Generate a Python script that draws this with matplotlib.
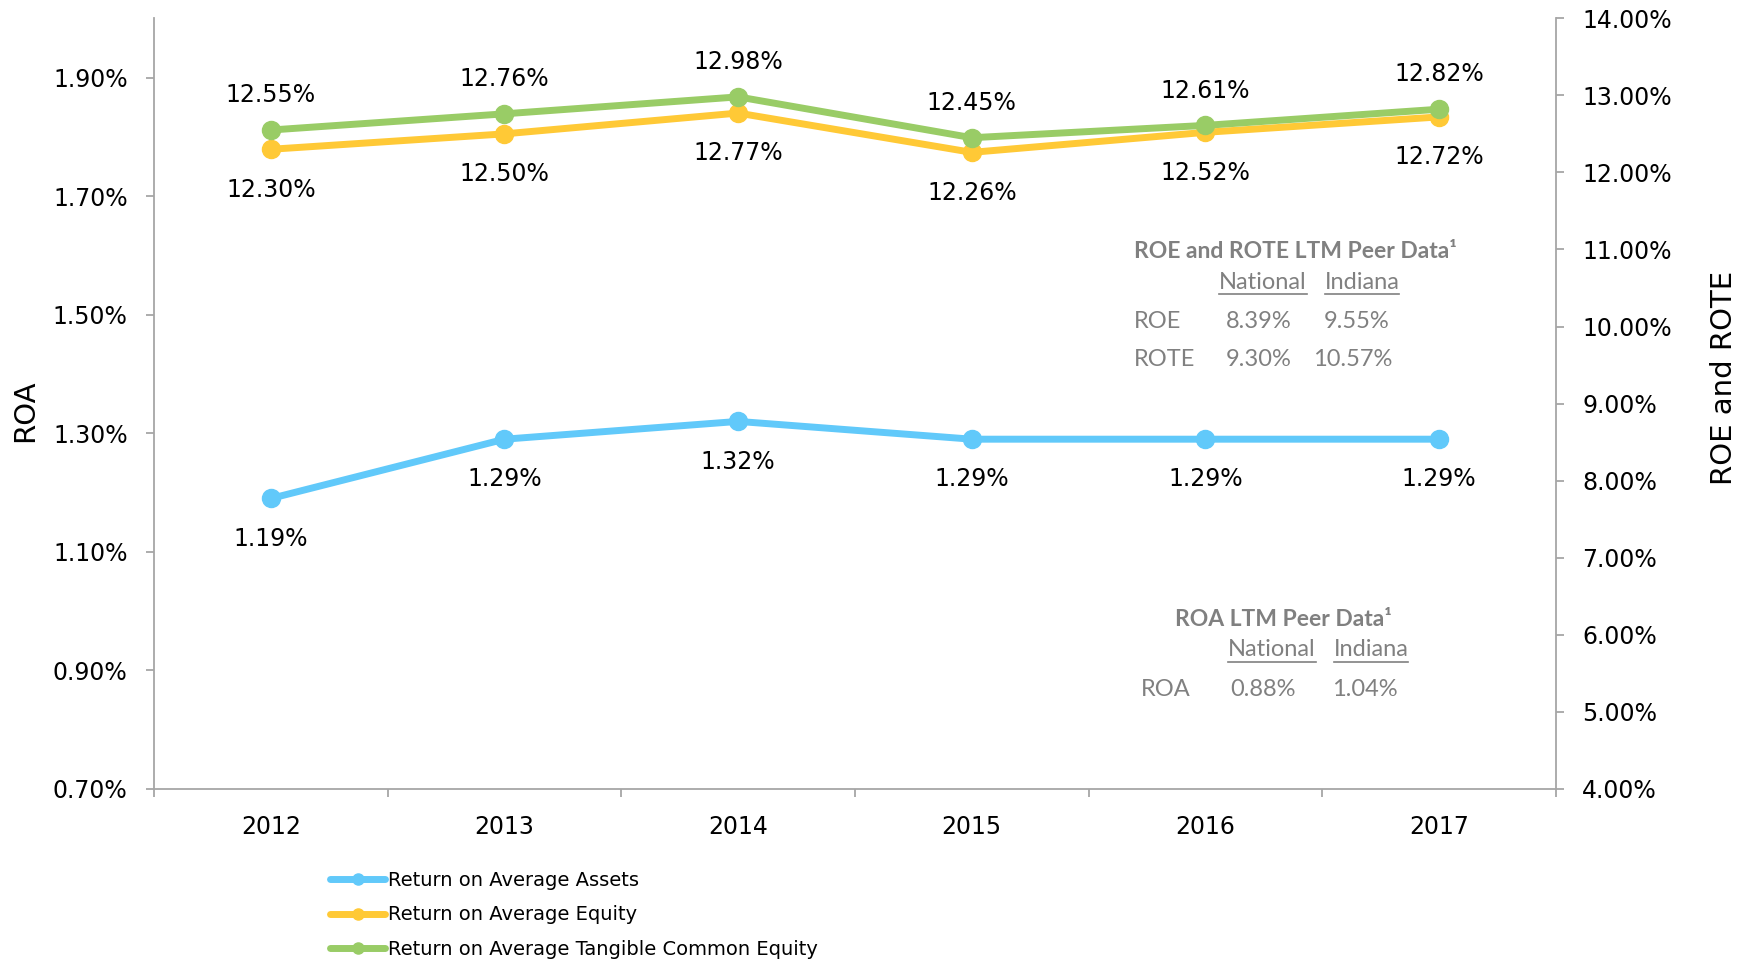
import matplotlib
matplotlib.use("Agg")
import matplotlib.pyplot as plt
from matplotlib.lines import Line2D

years = ["2012", "2013", "2014", "2015", "2016", "2017"]
roa = [1.19, 1.29, 1.32, 1.29, 1.29, 1.29]
roe = [12.30, 12.50, 12.77, 12.26, 12.52, 12.72]
rote = [12.55, 12.76, 12.98, 12.45, 12.61, 12.82]

roa_ticks = [0.70, 0.90, 1.10, 1.30, 1.50, 1.70, 1.90]
roe_ticks = [4, 5, 6, 7, 8, 9, 10, 11, 12, 13, 14]

peer_cols = ["National", "Indiana"]
peer_roe = [8.39, 9.55]
peer_rote = [9.30, 10.57]
peer_roa = [0.88, 1.04]

BLUE = "#61C9FA"
YELLOW = "#FFC936"
GREEN = "#99CC66"
AXIS = "#A6A6A6"
GRAY = "#808080"

fig = plt.figure(figsize=(17.52, 9.61), dpi=100)
ax = fig.add_axes([0.0879, 0.179, 0.8002, 0.802])
ax2 = ax.twinx()

x = list(range(len(years)))
lw, ms = 5, 13

ax.plot(x, roa, color=BLUE, lw=lw, marker="o", ms=ms, solid_capstyle="round")
ax2.plot(x, roe, color=YELLOW, lw=lw, marker="o", ms=ms, solid_capstyle="round")
ax2.plot(x, rote, color=GREEN, lw=lw, marker="o", ms=ms, solid_capstyle="round")

fs = 17
for i, v in enumerate(roa):
    ax.annotate(f"{v:.2f}%", (i, v), xytext=(0, -29), textcoords="offset points",
                ha="center", va="center", fontsize=fs)
for i, v in enumerate(roe):
    ax2.annotate(f"{v:.2f}%", (i, v), xytext=(0, -29), textcoords="offset points",
                 ha="center", va="center", fontsize=fs)
for i, v in enumerate(rote):
    ax2.annotate(f"{v:.2f}%", (i, v), xytext=(0, 25), textcoords="offset points",
                 ha="center", va="center", fontsize=fs)

ax.set_xlim(-0.5, len(years) - 0.5)
ax.set_ylim(0.70, 2.00)
ax2.set_ylim(4, 14)

ax.set_yticks(roa_ticks)
ax.set_yticklabels([f"{t:.2f}%" for t in roa_ticks], fontsize=fs)
ax2.set_yticks(roe_ticks)
ax2.set_yticklabels([f"{t:.2f}%" for t in roe_ticks], fontsize=fs)

ax.set_xticks([i - 0.5 for i in range(len(years) + 1)])
ax.set_xticklabels([])
ax.set_xticks(x, minor=True)
ax.set_xticklabels(years, minor=True, fontsize=fs)
ax.tick_params(axis="x", which="major", length=6, color=AXIS, width=1.3)
ax.tick_params(axis="x", which="minor", length=0, pad=19)
ax.tick_params(axis="y", length=6, color=AXIS, width=1.3, pad=13)
ax2.tick_params(axis="y", length=6, color=AXIS, width=1.3, pad=13)

for a in (ax, ax2):
    for s in a.spines.values():
        s.set_color(AXIS)
        s.set_linewidth(1.3)
    a.spines["top"].set_visible(False)
ax2.spines["left"].set_visible(False)
ax2.spines["bottom"].set_visible(False)
ax.spines["right"].set_visible(False)

fig.text(25 / 1752, 1 - 411 / 961, "ROA", rotation=90, ha="center", va="center", fontsize=21)
fig.text(1724 / 1752, 1 - 378 / 961, "ROE and ROTE", rotation=90, ha="center", va="center", fontsize=21)

# legend
handles = [Line2D([], [], color=c, lw=5, marker="o", ms=8, solid_capstyle="round")
           for c in (BLUE, YELLOW, GREEN)]
labels = ["Return on Average Assets", "Return on Average Equity",
          "Return on Average Tangible Common Equity"]
fig.legend(handles, labels, loc="upper left", bbox_to_anchor=(322 / 1752, 1 - 863 / 961),
           frameon=False, fontsize=14, handlelength=2.86, handletextpad=0.11,
           labelspacing=0.8, borderaxespad=0)

# peer data tables
tf = "Lato"
tfs = 17


def ftxt(px, py, s, **kw):
    kw.setdefault("fontsize", tfs)
    kw.setdefault("color", GRAY)
    kw.setdefault("family", tf)
    return fig.text(px / 1752, 1 - py / 961, s, va="center", **kw)


underlined = []
ftxt(1134, 251, "ROE and ROTE LTM Peer Data\u00b9", weight="bold", ha="left", fontsize=16.5)
underlined.append(ftxt(1263, 283, peer_cols[0], ha="center"))
underlined.append(ftxt(1362, 283, peer_cols[1], ha="center"))
ftxt(1134, 321, "ROE", ha="left")
ftxt(1134, 360, "ROTE", ha="left")
ftxt(1259, 321, f"{peer_roe[0]:.2f}%", ha="center")
ftxt(1357, 321, f"{peer_roe[1]:.2f}%", ha="center")
ftxt(1259, 360, f"{peer_rote[0]:.2f}%", ha="center")
ftxt(1353, 360, f"{peer_rote[1]:.2f}%", ha="center")

ftxt(1283, 619, "ROA LTM Peer Data\u00b9", weight="bold", ha="center", fontsize=16.5)
underlined.append(ftxt(1272, 650, peer_cols[0], ha="center"))
underlined.append(ftxt(1371, 650, peer_cols[1], ha="center"))
ftxt(1141, 690, "ROA", ha="left")
ftxt(1263, 690, f"{peer_roa[0]:.2f}%", ha="center")
ftxt(1365, 690, f"{peer_roa[1]:.2f}%", ha="center")

fig.canvas.draw()
r = fig.canvas.get_renderer()
W, H = fig.bbox.width, fig.bbox.height
for t in underlined:
    bb = t.get_window_extent(r)
    yb = bb.y0 - 1
    fig.add_artist(Line2D([bb.x0 / W, bb.x1 / W], [yb / H, yb / H], color=GRAY, lw=1.2))

fig.savefig("out.png", dpi=100)
